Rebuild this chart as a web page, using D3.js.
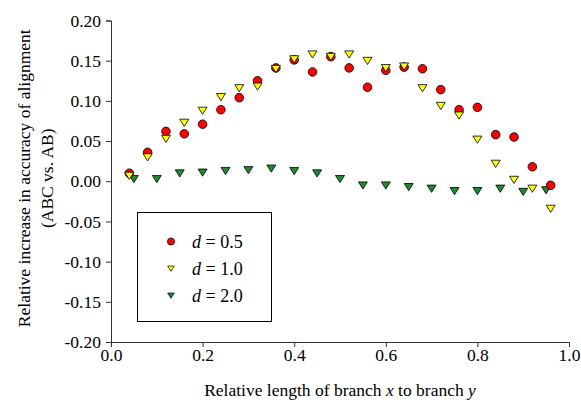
<!DOCTYPE html>
<html>
<head>
<meta charset="utf-8">
<script src="https://cdn.jsdelivr.net/npm/d3@7"></script>
<style>
  html, body { margin: 0; padding: 0; background: #fff; }
  svg { display: block; }
  svg text { font-family: "Liberation Serif", "Times New Roman", serif; }
</style>
</head>
<body>
<div id="chart"></div>
<script>
// x positions of the d = 0.5 and d = 1.0 runs
const xFine = [0.04, 0.08, 0.12, 0.16, 0.20, 0.24, 0.28, 0.32, 0.36, 0.40, 0.44, 0.48,
               0.52, 0.56, 0.60, 0.64, 0.68, 0.72, 0.76, 0.80, 0.84, 0.88, 0.92, 0.96];
// x positions of the d = 2.0 run
const xCoarse = [0.05, 0.10, 0.15, 0.20, 0.25, 0.30, 0.35, 0.40, 0.45, 0.50,
                 0.55, 0.60, 0.65, 0.70, 0.75, 0.80, 0.85, 0.90, 0.95];

const yD05 = [0.010, 0.036, 0.062, 0.059, 0.071, 0.089, 0.104, 0.125, 0.141, 0.151, 0.136, 0.155,
              0.141, 0.117, 0.138, 0.142, 0.140, 0.114, 0.089, 0.092, 0.058, 0.055, 0.018, -0.005];
const yD10 = [0.007, 0.030, 0.053, 0.073, 0.088, 0.105, 0.116, 0.118, 0.140, 0.152, 0.158, 0.155,
              0.158, 0.150, 0.141, 0.143, 0.116, 0.094, 0.082, 0.052, 0.022, 0.002, -0.009, -0.034];
const yD20 = [0.003, 0.003, 0.010, 0.011, 0.013, 0.014, 0.016, 0.013, 0.010, 0.003,
              -0.005, -0.005, -0.007, -0.009, -0.012, -0.012, -0.009, -0.013, -0.011];

const xTicks = [0.0, 0.2, 0.4, 0.6, 0.8, 1.0];
const yTicks = [-0.20, -0.15, -0.10, -0.05, 0.00, 0.05, 0.10, 0.15, 0.20];
const seriesLabels = ["0.5", "1.0", "2.0"];

const width = 581, height = 402;
const margin = { top: 20.5, right: 12, bottom: 60, left: 111 };
const serif = "'Liberation Serif', 'Times New Roman', serif";
const fontSize = 17.5;

const x = d3.scaleLinear().domain([0, 1]).range([margin.left, width - margin.right]);
const y = d3.scaleLinear().domain([-0.2, 0.2]).range([height - margin.bottom, margin.top]);

const svg = d3.create("svg")
    .attr("width", width)
    .attr("height", height)
    .attr("viewBox", [0, 0, width, height])
    .attr("font-family", serif);

const axisColor = "#333";

const gx = svg.append("g")
    .attr("transform", `translate(0,${y(-0.2)})`)
    .call(d3.axisBottom(x).tickValues(xTicks).tickFormat(d => d.toFixed(1)).tickSize(5).tickPadding(2));
const gy = svg.append("g")
    .attr("transform", `translate(${x(0)},0)`)
    .call(d3.axisLeft(y).tickValues(yTicks).tickFormat(d => d.toFixed(2)).tickSize(5).tickPadding(5));

[gx, gy].forEach(g => {
  g.attr("font-family", serif).attr("font-size", fontSize);
  g.select(".domain").attr("stroke", axisColor);
  g.selectAll(".tick line").attr("stroke", axisColor);
  g.selectAll(".tick text").attr("fill", "#000");
});

// axis titles
svg.append("text")
    .attr("x", (x(0) + x(1)) / 2)
    .attr("y", 396)
    .attr("text-anchor", "middle")
    .attr("font-size", fontSize)
    .call(t => {
      t.append("tspan").text("Relative length of branch ");
      t.append("tspan").attr("font-style", "italic").text("x");
      t.append("tspan").text(" to branch ");
      t.append("tspan").attr("font-style", "italic").text("y");
    });

const yTitle = svg.append("text")
    .attr("transform", `translate(30,${(y(0.2) + y(-0.2)) / 2 - 3}) rotate(-90)`)
    .attr("text-anchor", "middle")
    .attr("font-size", fontSize);
yTitle.append("tspan").attr("x", 0).attr("dy", 0).text("Relative increase in accuracy of alignment");
yTitle.append("tspan").attr("x", 0).attr("dy", 23).text("(ABC vs. AB)");

const colors = ["#ff0000", "#ffff00", "#1e8a32"];

function triPath(s) {
  // downward pointing triangle of half-width s
  return `M${-s},${-s * 0.75}L${s},${-s * 0.75}L0,${s * 0.85}Z`;
}

const plot = svg.append("g");

// d = 2.0
plot.append("g").selectAll("path")
    .data(xCoarse.map((d, i) => [d, yD20[i]]))
    .join("path")
    .attr("transform", d => `translate(${x(d[0])},${y(d[1])})`)
    .attr("d", triPath(4.5))
    .attr("fill", colors[2])
    .attr("stroke", "#000")
    .attr("stroke-width", 0.8);

// d = 0.5
plot.append("g").selectAll("circle")
    .data(xFine.map((d, i) => [d, yD05[i]]))
    .join("circle")
    .attr("cx", d => x(d[0]))
    .attr("cy", d => y(d[1]))
    .attr("r", 4.3)
    .attr("fill", colors[0])
    .attr("stroke", "#000")
    .attr("stroke-width", 0.8);

// d = 1.0
plot.append("g").selectAll("path")
    .data(xFine.map((d, i) => [d, yD10[i]]))
    .join("path")
    .attr("transform", d => `translate(${x(d[0])},${y(d[1])})`)
    .attr("d", triPath(4.5))
    .attr("fill", colors[1])
    .attr("stroke", "#000")
    .attr("stroke-width", 0.8);

// legend
const legend = svg.append("g");
legend.append("rect")
    .attr("x", 137.5).attr("y", 212.5)
    .attr("width", 134).attr("height", 109)
    .attr("fill", "#fff")
    .attr("stroke", "#000")
    .attr("stroke-width", 1);

const legendY = [241.5, 268.5, 295.5];
seriesLabels.forEach((lab, i) => {
  const g = legend.append("g").attr("transform", `translate(171,${legendY[i]})`);
  if (i === 0) {
    g.append("circle").attr("r", 3.6).attr("fill", colors[0]).attr("stroke", "#000").attr("stroke-width", 0.7);
  } else {
    g.append("path").attr("d", triPath(3.3)).attr("fill", colors[i]).attr("stroke", "#000").attr("stroke-width", 0.7);
  }
  const t = g.append("text").attr("x", 21).attr("y", 6).attr("font-size", 18);
  t.append("tspan").attr("font-style", "italic").text("d");
  t.append("tspan").text(" = " + lab);
});

document.getElementById("chart").appendChild(svg.node());
</script>
</body>
</html>
